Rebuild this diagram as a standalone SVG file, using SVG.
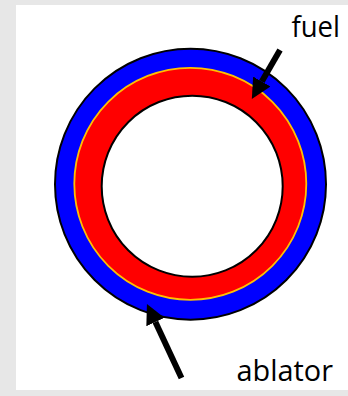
<svg xmlns="http://www.w3.org/2000/svg" width="348" height="396" viewBox="0 0 348 396">
  <style>
    .label { font-family: "Open Sans", "Liberation Sans", sans-serif; font-size: 28.5px; fill: #000; }
    .pointer { stroke: #000; stroke-width: 6; fill: none; marker-end: url(#head); }
  </style>
  <defs>
    <marker id="head" markerUnits="userSpaceOnUse" markerWidth="22" markerHeight="22" viewBox="0 -11 22 22" refX="0" refY="0" orient="auto">
      <path d="M0,-10 L20,0 L0,10 Z" fill="#000"/>
    </marker>
  </defs>

  <!-- page -->
  <rect x="0" y="0" width="348" height="396" fill="#e7e7e7"/>
  <rect x="16" y="5" width="332" height="385" fill="#fff"/>

  <!-- capsule cross-section -->
  <g id="ablator">
    <circle cx="190.5" cy="184.2" r="135.5" fill="#0000ff" stroke="#000" stroke-width="2"/>
  </g>
  <g id="fuel">
    <circle cx="190.3" cy="183.8" r="116" fill="#ff0000" stroke="#ffc000" stroke-width="1.8"/>
  </g>
  <g id="core">
    <circle cx="192.2" cy="186.2" r="90.5" fill="#fff" stroke="#000" stroke-width="2"/>
  </g>

  <!-- pointers -->
  <g id="connectors">
    <line class="pointer" x1="280" y1="50" x2="261.8" y2="81.6"/>
    <line class="pointer" x1="181.5" y1="378" x2="155.4" y2="322.1"/>
  </g>

  <!-- labels -->
  <g id="label-fuel">
    <text class="label" x="291.5" y="37" textLength="48.5" lengthAdjust="spacingAndGlyphs">fuel</text>
  </g>
  <g id="label-ablator">
    <text class="label" x="236.5" y="381" textLength="96.5" lengthAdjust="spacingAndGlyphs">ablator</text>
  </g>
</svg>
